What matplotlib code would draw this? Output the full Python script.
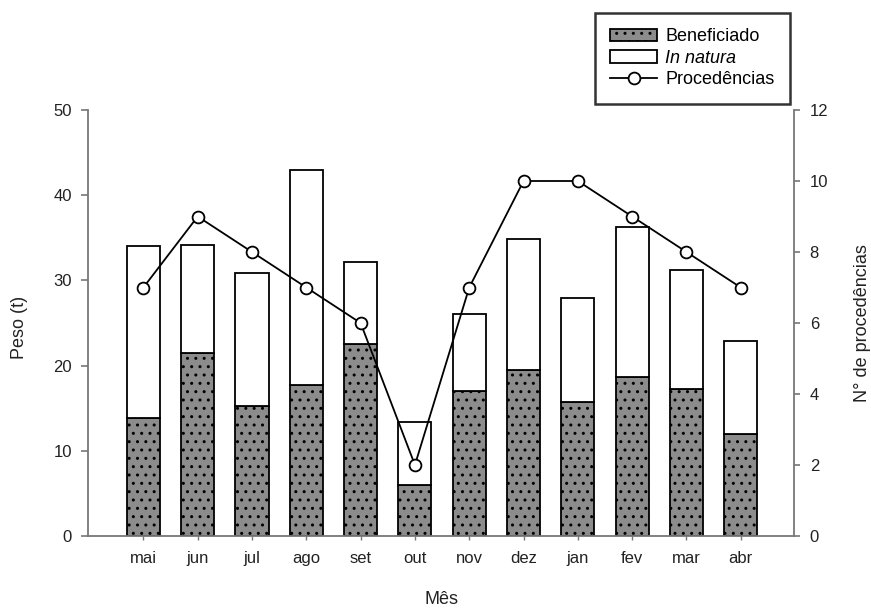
import matplotlib
matplotlib.use("Agg")
import matplotlib.pyplot as plt
from matplotlib.patches import Patch
from matplotlib.lines import Line2D
import numpy as np

plt.rcParams['font.family'] = ['Liberation Sans', 'DejaVu Sans']
plt.rcParams['hatch.color'] = '#3c3c3c'
plt.rcParams['hatch.linewidth'] = 1.0

meses = ['mai', 'jun', 'jul', 'ago', 'set', 'out', 'nov', 'dez', 'jan', 'fev', 'mar', 'abr']
beneficiado = [13.8, 21.5, 15.2, 17.7, 22.5, 6.0, 17.0, 19.5, 15.7, 18.7, 17.3, 12.0]
total = [34.0, 34.2, 30.9, 42.9, 32.2, 13.4, 26.1, 34.9, 27.9, 36.3, 31.2, 22.9]
in_natura = [t - b for t, b in zip(total, beneficiado)]
procedencias = [7, 9, 8, 7, 6, 2, 7, 10, 10, 9, 8, 7]

fig = plt.figure(figsize=(8.71, 6.09), dpi=100)
ax = fig.add_axes([88/871, 1-536/609, (794-88)/871, (536-110)/609])
ax2 = ax.twinx()

x = np.arange(len(meses))
w = 0.61
fill_gray = '#8c8c8c'
ax.bar(x, beneficiado, w, color=fill_gray, edgecolor='black', linewidth=1.3,
       hatch='..', zorder=2)
ax.bar(x, in_natura, w, bottom=beneficiado, color='white', edgecolor='black',
       linewidth=1.3, zorder=2)

ax2.plot(x, procedencias, color='black', linewidth=1.3, marker='o', markersize=8.5,
         markerfacecolor='white', markeredgecolor='black', markeredgewidth=1.3, zorder=3)

ax.set_xlim(-1.02, 11.98)
ax.set_ylim(0, 50)
ax2.set_ylim(0, 12)
ax.set_yticks([0, 10, 20, 30, 40, 50])
ax2.set_yticks([0, 2, 4, 6, 8, 10, 12])
ax.set_xticks(x)
ax.set_xticklabels(meses)

spine_col = '#777777'
for a in (ax, ax2):
    a.spines['top'].set_visible(False)
    for s in ('left', 'right', 'bottom'):
        a.spines[s].set_color(spine_col)
        a.spines[s].set_linewidth(1.3)
ax.spines['right'].set_visible(False)
ax2.spines['left'].set_visible(False)
ax2.spines['bottom'].set_visible(False)

txt_col = '#222222'
ax.tick_params(axis='y', direction='out', length=5, width=1.2, color=spine_col,
               labelsize=12, labelcolor=txt_col, pad=6.5)
ax.tick_params(axis='x', direction='out', length=3, width=1.0, color=spine_col,
               labelsize=12, labelcolor=txt_col, pad=8)
ax2.tick_params(axis='y', direction='out', length=4.3, width=1.2, color=spine_col,
                labelsize=12, labelcolor=txt_col, pad=7)

ax.set_ylabel('Peso (t)', fontsize=13, color=txt_col)
ax.yaxis.set_label_coords((28-88)/706, 0.49)
ax.set_xlabel('Mês', fontsize=13, color=txt_col)
ax.xaxis.set_label_coords(0.5, (536-591)/426)
ax2.set_ylabel('N° de procedências', fontsize=13, color=txt_col)
ax2.yaxis.set_label_coords((854-88)/706, 0.5)
ax.set_zorder(ax2.get_zorder() - 1)
ax.patch.set_visible(True)
ax2.patch.set_visible(False)

handles = [
    Patch(facecolor=fill_gray, edgecolor='black', hatch='..', linewidth=1.3),
    Patch(facecolor='white', edgecolor='black', linewidth=1.3),
    Line2D([0], [0], color='black', linewidth=1.3, marker='o', markersize=8.5,
           markerfacecolor='white', markeredgecolor='black', markeredgewidth=1.3),
]
leg = fig.legend(handles, ['Beneficiado', 'In natura', 'Procedências'],
                 loc='upper right', bbox_to_anchor=(790/871, 1-13/609),
                 frameon=True, fancybox=False, fontsize=13, handlelength=2.6,
                 handleheight=0.7, labelspacing=0.25, borderpad=0.85,
                 handletextpad=0.45, borderaxespad=0)
leg.get_frame().set_edgecolor('black')
leg.get_frame().set_linewidth(1.8)
leg.get_texts()[1].set_fontstyle('italic')

fig.savefig('out.png', dpi=100)
